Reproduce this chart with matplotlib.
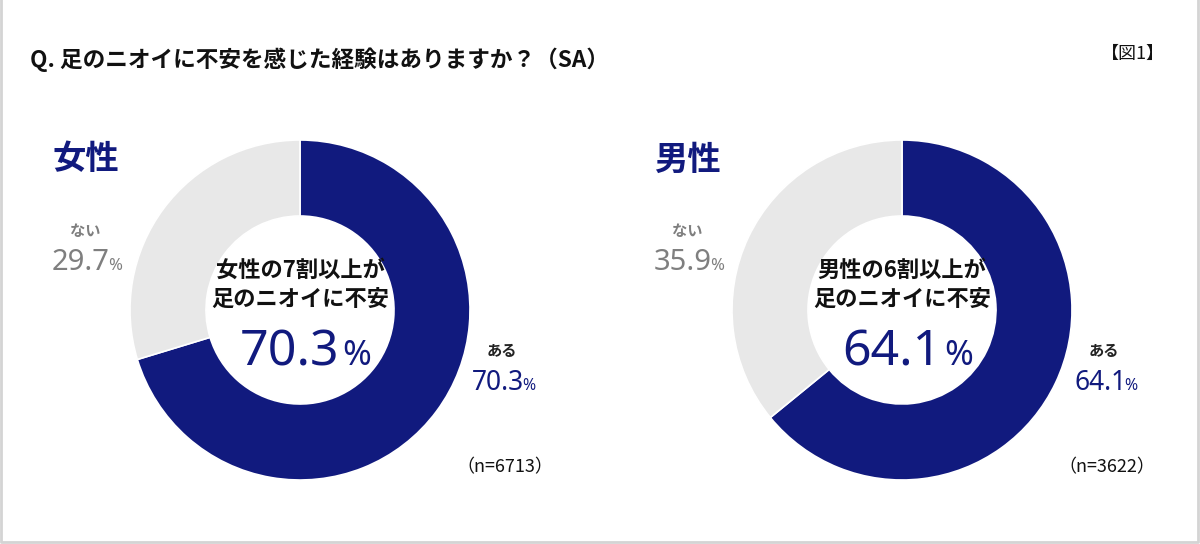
import matplotlib.pyplot as plt

plt.rcParams['font.family'] = ['Noto Sans CJK JP', 'DejaVu Sans']

# data
groups = ['女性', '男性']
yes_pct = [70.3, 64.1]
no_pct = [29.7, 35.9]
n_count = [6713, 3622]
headline = ['女性の7割以上が\n足のニオイに不安', '男性の6割以上が\n足のニオイに不安']
title = 'Q. 足のニオイに不安を感じた経験はありますか？（SA）'

navy = '#111a7e'
light = '#e8e8e8'
grey_txt = '#7f7f7f'
numfont = ['Noto Sans', 'DejaVu Sans']

fig = plt.figure(figsize=(12, 5.44), dpi=100)
ax = fig.add_axes([0, 0, 1, 1])


def txt(x, y, s, **kw):
    # y given in pixel rows from top
    return ax.text(x, -y, s, **kw)


def num_pct(x, y, value, size, psize, color, ha='left', gap=0, weight='normal'):
    # number and a smaller % sign sharing one baseline
    t = txt(x, y, f'{value:.1f}', fontsize=size, color=color, family=numfont,
            va='baseline', ha=ha, fontweight=weight)
    ax.annotate('%', xy=(1, -y), xycoords=(t, 'data'), xytext=(gap, 0),
                textcoords='offset pixels', fontsize=psize, color=color,
                family=numfont, va='baseline', ha='left', fontweight=weight)


# frame
ax.plot([1, 1, 1198, 1198], [0, -542, -542, 0], color='#d4d4d4', lw=2)

txt(30, 60, title, fontsize=16.3, fontweight='bold', va='center', ha='left', color='#111111')
txt(1133, 54, '【図1】', fontsize=13, va='center', ha='center', color='#111111')

centers = [300, 902]
R = 170
for i, cx in enumerate(centers):
    cy = 310
    ax.pie([yes_pct[i], no_pct[i]], colors=[navy, light], startangle=90,
           counterclock=False, center=(cx, -cy), radius=R,
           wedgeprops=dict(width=76, edgecolor='white', linewidth=1.2),
           frame=True)
    x0 = cx - 248
    txt(x0, 160, groups[i], fontsize=24, fontweight='bold', color=navy, va='center', ha='left')
    txt(x0 + 33, 231, 'ない', fontsize=11, fontweight='bold', color=grey_txt, va='center', ha='center')
    num_pct(x0, 270, no_pct[i], 21, 12, grey_txt, gap=-2)
    # centre text
    txt(cx, 285, headline[i], fontsize=16, fontweight='bold', color='#111111',
        va='center', ha='center', linespacing=1.35)
    num_pct(cx - 60, 365, yes_pct[i], 36, 25, navy, gap=3, weight='medium')
    # ある label
    xa = cx + 202
    txt(xa, 351, 'ある', fontsize=11, fontweight='bold', color='#222222', va='center', ha='center')
    num_pct(xa - 30, 390, yes_pct[i], 19, 11.5, navy, gap=-2)
    txt(xa + 3, 467, f'（n={n_count[i]}）', fontsize=13, color='#111111', va='center', ha='center')

ax.set_xlim(0, 1200)
ax.set_ylim(-544, 0)
ax.set_aspect('equal')
ax.axis('off')
fig.savefig('out.png', dpi=100)
